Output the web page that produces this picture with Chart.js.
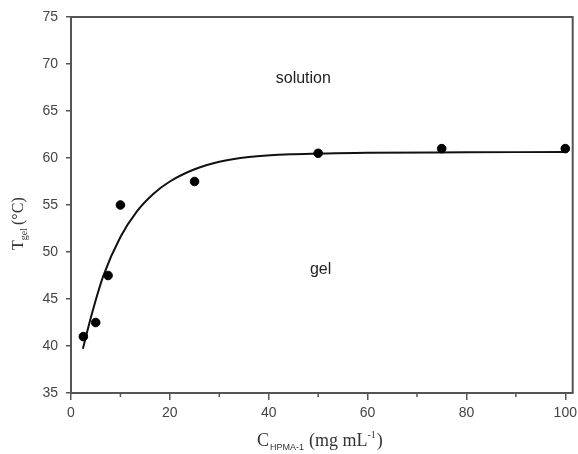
<!DOCTYPE html>
<html>
<head>
<meta charset="utf-8">
<script src="https://cdn.jsdelivr.net/npm/chart.js@4"></script>
<style>
  html, body { margin: 0; padding: 0; background: #fff; }
  #wrap { width: 578px; height: 454px; }
</style>
</head>
<body>
<div id="wrap"><canvas id="chart" width="578" height="454"></canvas></div>
<script>
// measured points
const concX = [2.5, 5, 7.5, 10, 25, 50, 75, 100];
const tgelY = [41, 42.5, 47.5, 55, 57.5, 60.5, 61, 61];

// fitted curve
const fitX = [2.4, 3.9, 6.5, 10, 13.3, 16.7, 20, 25, 30, 36, 45, 60, 80, 100];
const fitY = [39.7, 42.8, 47.4, 51.6, 54.3, 56.2, 57.5, 58.8, 59.6, 60.1, 60.4, 60.55, 60.6, 60.65];

const minorX = [10, 30, 50, 70, 90];

const regionLabels = [
  { text: "solution", x: 47, y: 68.5 },
  { text: "gel", x: 50.5, y: 48.1 }
];

const axisColor = "#555";
const serif = "'Liberation Serif', 'Times New Roman', serif";
const sans = "'Liberation Sans', Arial, sans-serif";

const extras = {
  id: "extras",
  afterDraw(chart) {
    const { ctx, chartArea: a, scales: { x, y } } = chart;
    ctx.save();
    // frame top + right
    ctx.strokeStyle = axisColor;
    ctx.lineWidth = 2;
    ctx.beginPath();
    ctx.moveTo(a.left, a.top);
    ctx.lineTo(a.right, a.top);
    ctx.lineTo(a.right, a.bottom);
    ctx.stroke();

    // minor ticks on x
    ctx.lineWidth = 1.5;
    minorX.forEach(v => {
      const px = x.getPixelForValue(v);
      ctx.beginPath();
      ctx.moveTo(px, a.bottom);
      ctx.lineTo(px, a.bottom + 4);
      ctx.stroke();
    });

    // region labels
    ctx.fillStyle = "#222";
    ctx.font = "16px " + sans;
    ctx.textAlign = "center";
    ctx.textBaseline = "middle";
    regionLabels.forEach(l => {
      ctx.fillText(l.text, x.getPixelForValue(l.x), y.getPixelForValue(l.y));
    });

    // x axis title: C_HPMA-1 (mg mL^-1)
    ctx.fillStyle = "#333";
    ctx.textAlign = "left";
    ctx.textBaseline = "alphabetic";
    let cx = 257, cy = 446;
    ctx.font = "18px " + serif;
    ctx.fillText("C", cx, cy);
    cx += ctx.measureText("C").width + 1;
    ctx.font = "9px " + sans;
    ctx.fillText("HPMA-1", cx, cy + 4);
    cx += ctx.measureText("HPMA-1").width + 5;
    ctx.font = "18px " + serif;
    ctx.fillText("(mg mL", cx, cy);
    cx += ctx.measureText("(mg mL").width;
    ctx.font = "10px " + serif;
    ctx.fillText("-1", cx, cy - 8);
    cx += ctx.measureText("-1").width + 1;
    ctx.font = "18px " + serif;
    ctx.fillText(")", cx, cy);

    // y axis title: T_gel (°C)
    ctx.translate(23, 250);
    ctx.rotate(-Math.PI / 2);
    let ty = 0;
    ctx.font = "16px " + serif;
    ctx.fillText("T", ty, 0);
    ty += ctx.measureText("T").width;
    ctx.font = "10px " + serif;
    ctx.fillText("gel", ty, 4);
    ty += ctx.measureText("gel").width + 3;
    ctx.font = "16px " + serif;
    ctx.fillText("(°C)", ty, 0);
    ctx.restore();
  }
};

new Chart(document.getElementById("chart"), {
  type: "scatter",
  data: {
    datasets: [
      {
        label: "data",
        data: concX.map((v, i) => ({ x: v, y: tgelY[i] })),
        backgroundColor: "#000",
        borderColor: "#000",
        pointRadius: 4.3,
        showLine: false
      },
      {
        label: "fit",
        data: fitX.map((v, i) => ({ x: v, y: fitY[i] })),
        borderColor: "#111",
        borderWidth: 2,
        pointRadius: 0,
        showLine: true,
        cubicInterpolationMode: "monotone"
      }
    ]
  },
  options: {
    responsive: false,
    animation: false,
    layout: { padding: { top: 17, right: 5, left: 0, bottom: 0 } },
    plugins: { legend: { display: false }, tooltip: { enabled: false } },
    scales: {
      x: {
        type: "linear",
        min: 0,
        max: 101.5,
        afterFit(scale) {
          scale.height = 61;
          scale.paddingLeft = 0;
          scale.paddingRight = 0;
        },
        border: { color: axisColor, width: 2 },
        grid: { drawOnChartArea: false, drawTicks: true, tickLength: 7, color: axisColor, lineWidth: 1.5 },
        ticks: {
          stepSize: 20,
          includeBounds: false,
          padding: 5,
          color: "#444",
          font: { family: sans, size: 14 }
        }
      },
      y: {
        min: 35,
        max: 75,
        afterFit(scale) { scale.width = 71; },
        border: { color: axisColor, width: 2 },
        grid: { drawOnChartArea: false, drawTicks: true, tickLength: 5, color: axisColor, lineWidth: 1.5 },
        ticks: {
          stepSize: 5,
          padding: 8,
          color: "#444",
          font: { family: sans, size: 14 }
        }
      }
    }
  },
  plugins: [extras]
});
</script>
</body>
</html>
